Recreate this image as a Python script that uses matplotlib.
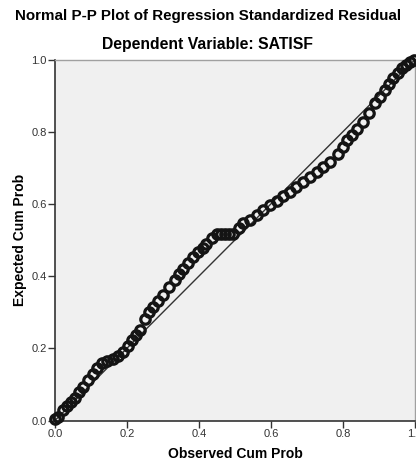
import matplotlib
matplotlib.use('Agg')
import matplotlib.pyplot as plt

plt.rcParams['font.family'] = ['Liberation Sans', 'DejaVu Sans']

# observed vs expected cumulative probability
observed = [0.000, 0.009, 0.023, 0.034, 0.046, 0.056, 0.068, 0.079, 0.092, 0.106,
            0.118, 0.130, 0.146, 0.162, 0.176, 0.190, 0.202, 0.213, 0.225, 0.236,
            0.250, 0.262, 0.273, 0.287, 0.300, 0.316, 0.333, 0.345, 0.356, 0.370,
            0.384, 0.398, 0.412, 0.421, 0.435, 0.449, 0.460, 0.472, 0.484, 0.495,
            0.510, 0.523, 0.541, 0.560, 0.579, 0.597, 0.616, 0.634, 0.653, 0.671,
            0.690, 0.708, 0.727, 0.745, 0.764, 0.787, 0.800, 0.812, 0.825, 0.838,
            0.856, 0.872, 0.889, 0.903, 0.917, 0.929, 0.940, 0.952, 0.963, 0.975,
            0.986, 0.997]
expected = [0.003, 0.010, 0.029, 0.040, 0.052, 0.062, 0.078, 0.094, 0.112, 0.128,
            0.145, 0.158, 0.166, 0.171, 0.180, 0.191, 0.207, 0.223, 0.237, 0.251,
            0.280, 0.300, 0.315, 0.330, 0.348, 0.370, 0.389, 0.405, 0.420, 0.437,
            0.454, 0.467, 0.477, 0.490, 0.505, 0.518, 0.518, 0.518, 0.518, 0.518,
            0.532, 0.546, 0.556, 0.569, 0.583, 0.596, 0.609, 0.622, 0.634, 0.648,
            0.662, 0.675, 0.689, 0.703, 0.717, 0.737, 0.757, 0.777, 0.792, 0.808,
            0.828, 0.853, 0.879, 0.897, 0.915, 0.932, 0.948, 0.962, 0.976, 0.986,
            0.994, 0.999]

ticks = [0.0, 0.2, 0.4, 0.6, 0.8, 1.0]
tick_labels = ['0.0', '0.2', '0.4', '0.6', '0.8', '1.0']

fig = plt.figure(figsize=(4.16, 4.62), dpi=100)
ax = fig.add_axes([0.132, 0.0898, 0.8654, 0.7814])
ax.set_facecolor('#f0f0f0')

ax.plot([0, 1], [0, 1], color='#333333', linewidth=1.0, zorder=2)
ax.plot(observed, expected, linestyle='none', marker='o', markersize=6.8,
        markerfacecolor='none', markeredgecolor='#141414', markeredgewidth=2.3,
        zorder=3, clip_on=False)

ax.set_xlim(0, 1)
ax.set_ylim(0, 1)
ax.set_xticks(ticks)
ax.set_xticklabels(tick_labels)
ax.set_yticks(ticks)
ax.set_yticklabels(tick_labels)
ax.tick_params(direction='out', length=5, width=1, colors='#333333',
               labelsize=8, labelcolor='#333333', pad=1)

for side in ['left', 'bottom']:
    ax.spines[side].set_color('#333333')
    ax.spines[side].set_linewidth(1.2)
for side in ['top', 'right']:
    ax.spines[side].set_color('#a0a0a0')
    ax.spines[side].set_linewidth(1.0)

ax.set_xlabel('Observed Cum Prob', fontsize=10, fontweight='bold', labelpad=6)
ax.set_ylabel('Expected Cum Prob', fontsize=10, fontweight='bold', labelpad=3)

fig.text(0.5, 1 - 16 / 462, 'Normal P-P Plot of Regression Standardized Residual',
         ha='center', va='center', fontsize=10.9, fontweight='bold')
fig.text(0.5, 1 - 44 / 462, 'Dependent Variable: SATISF',
         ha='center', va='center', fontsize=11.3, fontweight='bold')

fig.savefig('out.png', dpi=100)
